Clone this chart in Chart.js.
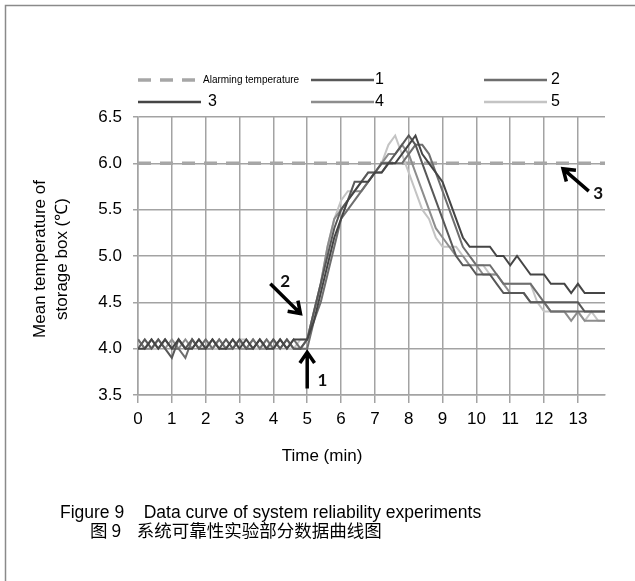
<!DOCTYPE html>
<html>
<head>
<meta charset="utf-8">
<script src="https://cdn.jsdelivr.net/npm/chart.js@4.4.1/dist/chart.umd.min.js"></script>
<style>
  html, body { margin: 0; padding: 0; background: #fff; }
  #wrap { position: relative; width: 635px; height: 581px; overflow: hidden; }
  #chart { position: absolute; left: 0; top: 0; }
  .cap { position: absolute; color: #000; white-space: pre; font-size: 17.5px; line-height: 20px; }
</style>
</head>
<body>
<div id="wrap">
  <canvas id="chart" width="635" height="581"></canvas>
  <div class="cap" style="left:60px; top:502px; font-family:'Liberation Sans', Arial, sans-serif;">Figure 9    Data curve of system reliability experiments</div>
  <div class="cap" style="left:90px; top:520px; font-family:'Noto Sans CJK SC', sans-serif;">图 9    系统可靠性实验部分数据曲线图</div>
</div>
<script>
// time axis (min), one sample every 0.2 min
const times = [
  0, 0.2, 0.4, 0.6, 0.8, 1, 1.2, 1.4, 1.6, 1.8, 2, 2.2, 2.4, 2.6, 2.8, 3, 3.2, 3.4, 3.6, 3.8,
  4, 4.2, 4.4, 4.6, 4.8, 5, 5.2, 5.4, 5.6, 5.8, 6, 6.2, 6.4, 6.6, 6.8, 7, 7.2, 7.4, 7.6, 7.8,
  8, 8.2, 8.4, 8.6, 8.8, 9, 9.2, 9.4, 9.6, 9.8, 10, 10.2, 10.4, 10.6, 10.8, 11, 11.2, 11.4, 11.6, 11.8,
  12, 12.2, 12.4, 12.6, 12.8, 13, 13.2, 13.4, 13.6, 13.8
];

const alarmTemp = 6.0;

// mean temperature (°C) of the five runs
const run1 = [
  4.0, 4.1, 4.0, 4.1, 4.0, 3.9, 4.1, 4.0, 4.1, 4.0, 4.0, 4.1, 4.0, 4.1, 4.0, 4.1, 4.0, 4.0, 4.1, 4.0,
  4.1, 4.0, 4.1, 4.0, 4.0,
  4.1, 4.4, 4.7, 5.0, 5.3, 5.5, 5.6, 5.8, 5.8, 5.9, 5.9, 6.0, 6.0, 6.1, 6.2, 6.3, 6.2, 6.0, 5.8, 5.6,
  5.4, 5.2, 5.0, 4.9, 4.9, 4.8, 4.8, 4.8, 4.7, 4.6, 4.6, 4.6, 4.6, 4.5, 4.5, 4.5, 4.5, 4.5, 4.5, 4.5,
  4.5, 4.4, 4.4, 4.4, 4.4
];
const run2 = [
  4.1, 4.0, 4.1, 4.0, 4.1, 4.0, 4.0, 3.9, 4.1, 4.0, 4.1, 4.0, 4.1, 4.0, 4.0, 4.1, 4.0, 4.1, 4.0, 4.1,
  4.0, 4.1, 4.0, 4.1, 4.0,
  4.0, 4.3, 4.5, 4.8, 5.1, 5.4, 5.5, 5.6, 5.7, 5.8, 5.9, 5.9, 6.0, 6.0, 6.0, 6.1, 6.2, 6.2, 6.1, 5.9,
  5.7, 5.5, 5.3, 5.1, 5.0, 4.9, 4.9, 4.9, 4.8, 4.7, 4.7, 4.7, 4.7, 4.7, 4.6, 4.5, 4.4, 4.4, 4.4, 4.4,
  4.4, 4.4, 4.4, 4.4, 4.4
];
const run3 = [
  4.0, 4.0, 4.1, 4.0, 4.1, 4.0, 4.1, 4.0, 4.0, 4.1, 4.0, 4.1, 4.0, 4.0, 4.1, 4.0, 4.1, 4.0, 4.1, 4.0,
  4.0, 4.1, 4.0, 4.1, 4.1,
  4.1, 4.3, 4.6, 4.9, 5.2, 5.4, 5.6, 5.7, 5.8, 5.8, 5.9, 5.9, 6.0, 6.0, 6.1, 6.2, 6.3, 6.1, 6.0, 5.9,
  5.8, 5.6, 5.4, 5.2, 5.1, 5.1, 5.1, 5.1, 5.0, 5.0, 4.9, 5.0, 4.9, 4.8, 4.8, 4.8, 4.7, 4.7, 4.7, 4.6,
  4.7, 4.6, 4.6, 4.6, 4.6
];
const run4 = [
  4.1, 4.0, 4.0, 4.1, 4.0, 4.1, 4.0, 4.1, 4.0, 4.1, 4.0, 4.0, 4.1, 4.0, 4.1, 4.0, 4.0, 4.1, 4.0, 4.0,
  4.1, 4.0, 4.1, 4.0, 4.0,
  4.1, 4.4, 4.7, 5.1, 5.4, 5.5, 5.6, 5.7, 5.7, 5.8, 5.9, 6.0, 6.1, 6.1, 6.2, 6.1, 5.9, 5.7, 5.5, 5.3,
  5.2, 5.1, 5.0, 5.0, 4.9, 4.9, 4.8, 4.8, 4.8, 4.7, 4.6, 4.6, 4.6, 4.5, 4.5, 4.5, 4.4, 4.4, 4.4, 4.3,
  4.4, 4.3, 4.3, 4.3, 4.3
];
const run5 = [
  4.0, 4.1, 4.0, 4.0, 4.1, 4.0, 4.1, 4.0, 4.1, 4.0, 4.1, 4.0, 4.0, 4.1, 4.0, 4.1, 4.1, 4.0, 4.0, 4.1,
  4.0, 4.1, 4.0, 4.0, 4.1,
  4.1, 4.4, 4.7, 5.1, 5.4, 5.6, 5.7, 5.7, 5.8, 5.9, 5.9, 6.0, 6.2, 6.3, 6.1, 5.9, 5.7, 5.5, 5.4, 5.2,
  5.1, 5.1, 5.1, 5.0, 5.0, 4.9, 4.9, 4.8, 4.8, 4.7, 4.7, 4.7, 4.7, 4.7, 4.5, 4.4, 4.4, 4.4, 4.4, 4.4,
  4.4, 4.3, 4.4, 4.3, 4.3
];

const seriesLabels = ['Alarming temperature', '1', '2', '3', '4', '5'];
const yTicks = [3.5, 4.0, 4.5, 5.0, 5.5, 6.0, 6.5];

// arrow annotations, in data coordinates [time, temp]
const arrowTails = [[5.0, 3.57], [3.91, 4.70], [13.32, 5.70]];
const arrowTips = [[5.0, 3.96], [4.80, 4.38], [12.56, 5.94]];
const arrowLabels = ['1', '2', '3'];
const arrowLabelPos = [[5.45, 3.655], [4.35, 4.73], [13.6, 5.67]];

const FONT = "'Liberation Sans', Arial, sans-serif";
const GRID = '#a3a3a3';
const ALARM_DASH = [13, 9];

function pts(values) {
  return values.map(function(v, i) { return { x: times[i], y: v }; });
}

function lineSet(label, data, color, order) {
  return {
    label: label, data: pts(data), borderColor: color, borderWidth: 2,
    pointRadius: 0, tension: 0, fill: false, order: order
  };
}

const datasets = [
  {
    label: seriesLabels[0],
    data: [{ x: times[0], y: alarmTemp }, { x: times[times.length - 1], y: alarmTemp }],
    borderColor: '#a6a6a6', borderWidth: 3.5, borderDash: ALARM_DASH,
    pointRadius: 0, fill: false, order: 9
  },
  lineSet(seriesLabels[1], run1, '#585858', 2),
  lineSet(seriesLabels[2], run2, '#6e6e6e', 3),
  lineSet(seriesLabels[3], run3, '#454545', 1),
  lineSet(seriesLabels[4], run4, '#8d8d8d', 4),
  lineSet(seriesLabels[5], run5, '#c4c4c4', 5)
];

// legend grid: 3 columns x 2 rows
const legendCols = [138, 311, 484];
const legendRows = [80, 102];
const legendGap = [2, 1, 4, 7, 1, 4];

function drawArrow(ctx, x0, y0, x1, y1) {
  const ang = Math.atan2(y1 - y0, x1 - x0);
  const head = 13;
  ctx.beginPath();
  ctx.moveTo(x0, y0);
  ctx.lineTo(x1, y1);
  ctx.moveTo(x1 - head * Math.cos(ang - 0.6), y1 - head * Math.sin(ang - 0.6));
  ctx.lineTo(x1, y1);
  ctx.lineTo(x1 - head * Math.cos(ang + 0.6), y1 - head * Math.sin(ang + 0.6));
  ctx.stroke();
}

const extras = {
  id: 'extras',
  beforeDraw(chart) {
    const ctx = chart.ctx;
    ctx.save();
    ctx.fillStyle = '#fff';
    ctx.fillRect(0, 0, chart.width, chart.height);
    ctx.strokeStyle = '#8a8a8a';
    ctx.lineWidth = 1.5;
    ctx.beginPath();
    ctx.moveTo(5.5, chart.height);
    ctx.lineTo(5.5, 5.5);
    ctx.lineTo(chart.width, 5.5);
    ctx.stroke();
    ctx.restore();
  },
  afterDraw(chart) {
    const ctx = chart.ctx;
    const xs = chart.scales.x, ys = chart.scales.y;
    ctx.save();

    // legend
    chart.data.datasets.forEach(function(ds, i) {
      const x = legendCols[i % 3], y = legendRows[Math.floor(i / 3)];
      ctx.strokeStyle = ds.borderColor;
      ctx.lineWidth = i === 0 ? 3.5 : 2.5;
      ctx.setLineDash(ds.borderDash || []);
      ctx.beginPath();
      ctx.moveTo(x, y);
      ctx.lineTo(x + 63, y);
      ctx.stroke();
      ctx.setLineDash([]);
      ctx.fillStyle = '#000';
      ctx.font = (i === 0 ? '10px ' : '16px ') + FONT;
      ctx.textAlign = 'left';
      ctx.textBaseline = 'middle';
      ctx.fillText(ds.label, x + 63 + legendGap[i], y);
    });

    // axis titles
    ctx.fillStyle = '#000';
    ctx.font = '17px ' + FONT;
    ctx.textAlign = 'center';
    ctx.textBaseline = 'middle';
    ctx.fillText('Time (min)', 322, 456);
    ctx.save();
    ctx.translate(40, 259);
    ctx.rotate(-Math.PI / 2);
    ctx.fillText('Mean temperature of', 0, 0);
    ctx.restore();
    ctx.save();
    ctx.translate(62, 259);
    ctx.rotate(-Math.PI / 2);
    ctx.fillText('storage box (\u2103)', 0, 0);
    ctx.restore();

    // arrows
    ctx.strokeStyle = '#000';
    ctx.lineWidth = 3.5;
    ctx.lineCap = 'butt';
    ctx.lineJoin = 'miter';
    arrowTips.forEach(function(tip, i) {
      const tail = arrowTails[i];
      drawArrow(ctx,
        xs.getPixelForValue(tail[0]), ys.getPixelForValue(tail[1]),
        xs.getPixelForValue(tip[0]), ys.getPixelForValue(tip[1]));
      ctx.fillStyle = '#111';
      ctx.font = 'bold 17px Lato, ' + FONT;
      ctx.fillText(arrowLabels[i],
        xs.getPixelForValue(arrowLabelPos[i][0]), ys.getPixelForValue(arrowLabelPos[i][1]));
    });
    ctx.restore();
  }
};

new Chart(document.getElementById('chart'), {
  type: 'line',
  data: { datasets: datasets },
  plugins: [extras],
  options: {
    responsive: false,
    animation: false,
    layout: { padding: { top: 117, right: 30, bottom: 156, left: 0 } },
    plugins: { legend: { display: false }, tooltip: { enabled: false } },
    scales: {
      x: {
        type: 'linear', min: 0, max: 13.8,
        afterFit: function(s) { s.height = 30; },
        grid: { color: GRID, lineWidth: 1.5, tickLength: 8 },
        border: { color: GRID, width: 1.5 },
        ticks: {
          stepSize: 1, includeBounds: false, autoSkip: false, maxRotation: 0,
          color: '#000', padding: 6, font: { family: FONT, size: 17 }
        }
      },
      y: {
        min: yTicks[0], max: yTicks[yTicks.length - 1],
        afterFit: function(s) { s.width = 138; },
        grid: { color: GRID, lineWidth: 1.5, tickLength: 5 },
        border: { color: GRID, width: 1.5 },
        afterBuildTicks: function(s) { s.ticks = yTicks.map(function(v) { return { value: v }; }); },
        ticks: {
          color: '#000', padding: 11, font: { family: FONT, size: 17 },
          callback: function(v) { return Number(v).toFixed(1); }
        }
      }
    }
  }
});
</script>
</body>
</html>
